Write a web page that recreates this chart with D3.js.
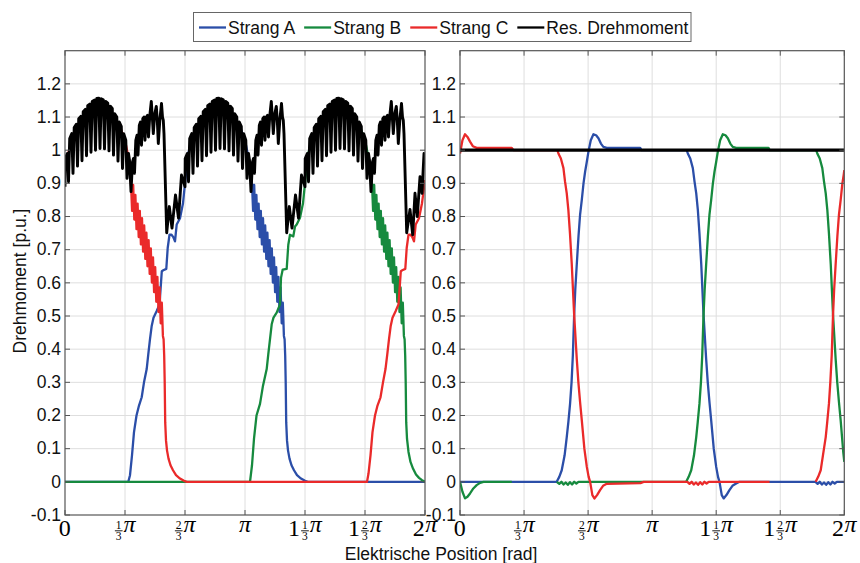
<!DOCTYPE html>
<html>
<head>
<meta charset="utf-8">
<script src="https://cdn.jsdelivr.net/npm/d3@7"></script>
<style>
  html, body { margin: 0; padding: 0; background: #fff; }
  svg { display: block; }
</style>
</head>
<body>
<svg id="chart" width="860" height="563"></svg>
<script>
// ---------------- data ----------------
// electrical position in degrees (0..360 = 0..2π), torque in p.u.
// null marks a break in a trace
const xTicksDeg = [0, 60, 120, 180, 240, 300, 360];
const xTickLabels = ["0", "1/3π", "2/3π", "π", "1 1/3π", "1 2/3π", "2π"];
const yTicks = [-0.1, 0, 0.1, 0.2, 0.3, 0.4, 0.5, 0.6, 0.7, 0.8, 0.9, 1, 1.1, 1.2];
const yTickLabels = ["-0.1", "0", "0.1", "0.2", "0.3", "0.4", "0.5", "0.6", "0.7", "0.8", "0.9", "1", "1.1", "1.2"];
const seriesNames = ["Strang A", "Strang B", "Strang C", "Res. Drehmoment"];
const seriesColors = ["#2b4ea8", "#168a3e", "#ea2a2a", "#000000"];

// left panel: phase torques
const leftA = [
  [0,0],[63.3,0],[65,0.02],[67,0.08],[69,0.15],[71.5,0.2],[74,0.23],[76.7,0.255],[79,0.3],[81.7,0.34],
  [83.3,0.385],[85,0.43],[86.7,0.47],[88.5,0.495],[91.7,0.515],[94.5,0.535],[96,0.6],[96.8,0.635],
  [98.3,0.638],[101.3,0.642],[102.7,0.705],[104.5,0.745],[106.5,0.745],[108.3,0.738],[110,0.725],
  [111.7,0.776],[115,0.795],[118,0.84],[121,0.93],[123,0.99],[130,1.05],[140,1.1],[152,1.135],[165,1.115],
  [175,1.07],[180,1.03],[183,0.985],[186,0.92],
  [187,0.9],[188.1,0.817],[189.2,0.895],[190.3,0.791],[191.4,0.865],[192.5,0.762],[193.6,0.839],
  [194.7,0.738],[195.8,0.817],[196.9,0.716],[198,0.795],[199.1,0.694],[200.2,0.773],[201.3,0.672],
  [202.4,0.751],[203.5,0.65],[204.6,0.729],[205.7,0.627],[206.8,0.704],[207.9,0.601],[209,0.677],
  [210.1,0.572],[211.2,0.647],[212.3,0.543],[213.4,0.618],[214.5,0.512],[215.6,0.586],[216.7,0.478],
  [217.8,0.54],[218.9,0.44],
  [219.6,0.43],[220.2,0.38],[220.7,0.3],[221.2,0.18],[222,0.125],[223,0.095],[224.5,0.07],[226.5,0.05],
  [229,0.035],[232,0.02],[236,0.01],[240,0.003],[243,0],[360,0]
];
const leftB = [
  [0,0],[185,0],[187,0.05],[189,0.13],[191.5,0.2],[195,0.235],[198,0.29],[201.7,0.34],[203.3,0.385],
  [206.7,0.475],[208.5,0.495],[211.7,0.51],[215,0.535],[216,0.615],[217.7,0.64],[221.7,0.642],
  [223.3,0.715],[225,0.745],[228.3,0.74],[230,0.77],[231.7,0.776],[235,0.796],[238,0.84],[241,0.93],
  [243,0.99],[250,1.05],[260,1.1],[272,1.135],[285,1.115],[295,1.07],[300,1.03],[303,0.985],[306,0.92],
  [307,0.9],[308.1,0.817],[309.2,0.895],[310.3,0.791],[311.4,0.865],[312.5,0.762],[313.6,0.839],
  [314.7,0.738],[315.8,0.817],[316.9,0.716],[318,0.795],[319.1,0.694],[320.2,0.773],[321.3,0.672],
  [322.4,0.751],[323.5,0.65],[324.6,0.729],[325.7,0.627],[326.8,0.704],[327.9,0.601],[329,0.677],
  [330.1,0.572],[331.2,0.647],[332.3,0.543],[333.4,0.618],[334.5,0.512],[335.6,0.586],[336.7,0.478],
  [337.8,0.54],[338.9,0.44],
  [339.6,0.43],[340.2,0.38],[340.7,0.3],[341.2,0.18],[342,0.13],[343.5,0.09],[345.5,0.06],[348,0.04],
  [351,0.022],[354,0.012],[357,0.005],[360,0]
];
const leftC = [
  [0,0.96],[3,0.99],[10,1.05],[20,1.1],[32,1.135],[45,1.115],[55,1.07],[60,1.03],[63,0.985],[65.5,0.92],
  [66,0.9],[67.1,0.817],[68.2,0.895],[69.3,0.791],[70.4,0.865],[71.5,0.762],[72.6,0.839],[73.7,0.738],
  [74.8,0.817],[75.9,0.716],[77,0.795],[78.1,0.694],[79.2,0.773],[80.3,0.672],[81.4,0.751],[82.5,0.65],
  [83.6,0.729],[84.7,0.627],[85.8,0.704],[86.9,0.601],[88,0.677],[89.1,0.572],[90.2,0.647],[91.3,0.543],
  [92.4,0.618],[93.5,0.512],[94.6,0.586],[95.7,0.478],[96.8,0.54],[97.9,0.44],
  [98.6,0.43],[99.2,0.38],[99.7,0.3],[100.2,0.18],[101,0.125],[102,0.095],[103.5,0.07],[105.5,0.05],
  [108,0.035],[111,0.02],[115,0.01],[119,0.003],[122,0],
  [302,0],[303.5,0.025],[305.5,0.08],[307.5,0.15],[310,0.2],[312.5,0.23],[315.5,0.255],[318,0.3],
  [320.5,0.34],[322.3,0.385],[324,0.43],[325.7,0.47],[327.5,0.495],[330.7,0.515],[333.5,0.535],[335,0.6],
  [335.8,0.635],[337.3,0.638],[340.3,0.642],[341.7,0.705],[343.5,0.745],[345.5,0.745],[347.3,0.738],
  [349,0.725],[350.7,0.776],[354,0.795],[357,0.84],[360,0.91]
];
// left panel: resulting torque with switching ripple
const leftRes = [
  [0,0.89],
  [0.2,0.975],[2.3,0.99],[3.5,0.905],[4.7,1.035],[6.8,1.05],[8,0.93],[9.2,1.068],[11.3,1.078],[12.5,0.952],
  [13.7,1.095],[15.8,1.102],[17,0.968],[18.2,1.116],[20.3,1.123],[21.5,0.983],[22.7,1.134],[24.8,1.139],[26,0.994],
  [27.2,1.147],[29.3,1.151],[30.5,1.0],[31.7,1.156],[33.8,1.157],[35,1.005],[36.2,1.155],[38.3,1.152],[39.5,1.004],
  [40.7,1.147],[42.8,1.142],[44,0.998],[45.2,1.133],[47.3,1.126],[48.5,0.985],[49.7,1.11],[51.8,1.1],[53,0.967],
  [54.2,1.085],[56.3,1.072],[57.5,0.945],[58.7,1.05],[60.8,1.03],[62,0.915],[63.5,0.99],[64.5,0.97],[66,0.875],
  [67.5,0.965],[68.5,0.975],[69.5,0.93],[70.8,1.03],[72,1.045],[73,0.985],[74.3,1.075],[75.5,1.085],
  [76.5,1.015],[77.8,1.095],[79,1.1],[80,1.03],[81.3,1.1],[82.5,1.105],[83.5,1.04],[84.8,1.105],
  [86.3,1.147],[87.3,1.1],[88.3,1.05],[89.8,1.11],[91.3,1.132],[92.3,1.09],[93.3,1.02],[94.8,1.09],
  [96.5,1.141],[97.5,1.1],[98.3,1.09],[99,1.05],[101.7,0.751],[104.3,0.83],[107,0.765],[110.5,0.865],
  [113.5,0.795],[116.5,0.925],
  [120,0.89],
  [120.2,0.975],[122.3,0.99],[123.5,0.905],[124.7,1.035],[126.8,1.05],[128,0.93],[129.2,1.068],[131.3,1.078],[132.5,0.952],
  [133.7,1.095],[135.8,1.102],[137,0.968],[138.2,1.116],[140.3,1.123],[141.5,0.983],[142.7,1.134],[144.8,1.139],[146,0.994],
  [147.2,1.147],[149.3,1.151],[150.5,1.0],[151.7,1.156],[153.8,1.157],[155,1.005],[156.2,1.155],[158.3,1.152],[159.5,1.004],
  [160.7,1.147],[162.8,1.142],[164,0.998],[165.2,1.133],[167.3,1.126],[168.5,0.985],[169.7,1.11],[171.8,1.1],[173,0.967],
  [174.2,1.085],[176.3,1.072],[177.5,0.945],[178.7,1.05],[180.8,1.03],[182,0.915],[183.5,0.99],[184.5,0.97],[186,0.875],
  [187.5,0.965],[188.5,0.975],[189.5,0.93],[190.8,1.03],[192,1.045],[193,0.985],[194.3,1.075],[195.5,1.085],
  [196.5,1.015],[197.8,1.095],[199,1.1],[200,1.03],[201.3,1.1],[202.5,1.105],[203.5,1.04],[204.8,1.105],
  [206.3,1.147],[207.3,1.1],[208.3,1.05],[209.8,1.11],[211.3,1.132],[212.3,1.09],[213.3,1.02],[214.8,1.09],
  [216.5,1.141],[217.5,1.1],[218.3,1.09],[219,1.05],[221.7,0.751],[224.3,0.83],[227,0.765],[230.5,0.865],
  [233.5,0.795],[236.5,0.925],
  [240,0.89],
  [240.2,0.975],[242.3,0.99],[243.5,0.905],[244.7,1.035],[246.8,1.05],[248,0.93],[249.2,1.068],[251.3,1.078],[252.5,0.952],
  [253.7,1.095],[255.8,1.102],[257,0.968],[258.2,1.116],[260.3,1.123],[261.5,0.983],[262.7,1.134],[264.8,1.139],[266,0.994],
  [267.2,1.147],[269.3,1.151],[270.5,1.0],[271.7,1.156],[273.8,1.157],[275,1.005],[276.2,1.155],[278.3,1.152],[279.5,1.004],
  [280.7,1.147],[282.8,1.142],[284,0.998],[285.2,1.133],[287.3,1.126],[288.5,0.985],[289.7,1.11],[291.8,1.1],[293,0.967],
  [294.2,1.085],[296.3,1.072],[297.5,0.945],[298.7,1.05],[300.8,1.03],[302,0.915],[303.5,0.99],[304.5,0.97],[306,0.875],
  [307.5,0.965],[308.5,0.975],[309.5,0.93],[310.8,1.03],[312,1.045],[313,0.985],[314.3,1.075],[315.5,1.085],
  [316.5,1.015],[317.8,1.095],[319,1.1],[320,1.03],[321.3,1.1],[322.5,1.105],[323.5,1.04],[324.8,1.105],
  [326.3,1.147],[327.3,1.1],[328.3,1.05],[329.8,1.11],[331.3,1.132],[332.3,1.09],[333.3,1.02],[334.8,1.09],
  [336.5,1.141],[337.5,1.1],[338.3,1.09],[339,1.05],[341.7,0.751],[345,0.821],[347.7,0.745],[350,0.87],
  [352.3,0.8],[355,0.92],[357,0.87],[359,0.99],[360,0.96]
];

// right panel: phase torques
const rightA = [
  [0,0],[90.6,0],[93,0.015],[95.3,0.035],[98,0.08],[100,0.135],[101.5,0.18],[103.1,0.235],[104.5,0.3],
  [105.7,0.38],[106.9,0.5],[108,0.58],[109.4,0.656],[111,0.74],[112.5,0.806],[114.1,0.85],[115.7,0.9],
  [117.2,0.935],[118.8,0.965],[120.3,0.995],[122.5,1.03],[125,1.048],[127.5,1.045],[129.7,1.036],
  [132,1.02],[134.3,1.01],[137.5,1.007],[168.8,1.007],[170,1.0],[212.4,1.0],
  [213.4,0.99],[215.7,0.975],[218.1,0.946],[219.7,0.905],[221.3,0.87],[222.8,0.82],[224.3,0.75],
  [226,0.656],[228.1,0.506],[230.6,0.37],[232.1,0.3],[233.7,0.24],[235.3,0.185],[237.7,0.1],[240,0.045],
  [241.7,0.015],[243.1,0],[245.2,-0.04],[247,-0.05],[249.6,-0.04],[252.4,-0.025],[255.2,-0.012],
  [258.7,-0.005],[261.8,0],[333,0],[335,-0.006],[337,0],[339,-0.008],[341,-0.002],[343,-0.009],
  [345,-0.001],[347,-0.008],[349,0],[351,-0.005],[353,0],[360,0]
];
const rightB = [
  [0,0],[2.3,-0.03],[4.7,-0.05],[7,-0.045],[9.4,-0.035],[12.5,-0.02],[15.6,-0.01],[18.8,-0.003],[22,0],
  [48.5,0],[48.5,null],
  [90.6,0],[93,-0.006],[95,0],[97,-0.008],[99,-0.002],[101,-0.009],[103,-0.001],[105,-0.008],[107,0],
  [109,-0.005],[111,0],
  [211.9,0],[214.2,0.015],[216.6,0.035],[219.2,0.08],[221.3,0.135],[222.7,0.18],[224.3,0.235],
  [225.7,0.3],[226.9,0.38],[228.1,0.5],[229.2,0.58],[230.6,0.656],[232.2,0.74],[233.7,0.806],
  [235.3,0.85],[236.9,0.9],[238.4,0.935],[240,0.965],[241.5,0.995],[243.7,1.03],[246.2,1.048],
  [248.7,1.045],[250.9,1.036],[253.2,1.02],[255.5,1.01],[258.7,1.007],[289,1.007],[290.2,1.0],[333.7,1.0],
  [334.7,0.99],[337,0.975],[339.4,0.946],[341,0.905],[342.6,0.87],[344.1,0.82],[345.6,0.75],
  [347.3,0.656],[349.4,0.506],[351.9,0.37],[353.4,0.3],[355,0.24],[356.6,0.185],[359,0.09],[360,0.06]
];
const rightC = [
  [0,0.99],[2.3,1.03],[4.7,1.048],[7,1.04],[9.4,1.026],[12,1.012],[15.6,1.007],[48.5,1.007],[50,1.0],
  [91.2,1.0],[92.2,0.99],[94.5,0.975],[96.9,0.946],[98.4,0.905],[100,0.87],[101.5,0.82],[103,0.75],
  [104.7,0.656],[106.9,0.506],[109.4,0.37],[110.9,0.3],[112.5,0.24],[114.1,0.185],[116.5,0.1],[118.8,0.045],
  [120.5,0.015],[121.9,0],[124,-0.04],[125.9,-0.05],[128.4,-0.04],[131.2,-0.025],[134,-0.012],
  [137.5,-0.006],[169,-0.004],
  [172,0],[213,0],[215,-0.006],[217,0],[219,-0.008],[221,-0.002],[223,-0.009],
  [225,-0.001],[227,-0.008],[229,0],[231,-0.005],[233,0],[290,0],[290,null],
  [333.2,0],[335.5,0.015],[337.9,0.035],[340,0.08],[342.6,0.135],[344,0.18],[345.6,0.235],[346.9,0.3],
  [348.2,0.38],[349.4,0.5],[350.5,0.58],[351.9,0.656],[353.5,0.74],[355,0.806],[356.6,0.85],
  [358.2,0.9],[359.4,0.925],[360,0.94]
];
const rightRes = [[0,1],[360,1]];

// ---------------- layout ----------------
const svg = d3.select("#chart");
const plotTop = 50.7, plotBottom = 515;
const panels = [
  { x0: 65,  x1: 425,   series: [leftA, leftB, leftC, leftRes],   resWidth: 2.9 },
  { x0: 460, x1: 844.3, series: [rightA, rightB, rightC, rightRes], resWidth: 3.2 }
];

const y = d3.scaleLinear().domain([-0.1, 1.3]).range([plotBottom, plotTop]);

const sansFont = "'Liberation Sans', Arial, Helvetica, sans-serif";
const serifFont = "'Liberation Serif', 'Times New Roman', serif";
const gridColor = "#dedede";
const axisColor = "#555";

// tick label such as "1 1/3π": whole number, stacked fraction, then π
function drawPiLabel(g, cx, label) {
  const grp = g.append("g");
  const isPi = label.endsWith("π");
  const body = isPi ? label.slice(0, -1) : label;
  let whole = "", num = "", den = "";
  body.split(" ").filter(s => s.length).forEach(part => {
    if (part.includes("/")) { [num, den] = part.split("/"); }
    else whole = part;
  });
  let cursor = 0;
  const base = 535.5;
  if (whole) {
    const t = grp.append("text").attr("x", cursor).attr("y", base)
      .style("font-family", serifFont).style("font-size", "24px").text(whole);
    cursor += t.node().getComputedTextLength() + 0.5;
  }
  if (num) {
    const tn = grp.append("text").attr("y", base - 6.5)
      .style("font-family", serifFont).style("font-size", "11.5px").attr("text-anchor", "middle").text(num);
    const td = grp.append("text").attr("y", base + 4.8)
      .style("font-family", serifFont).style("font-size", "11.5px").attr("text-anchor", "middle").text(den);
    const w = Math.max(tn.node().getComputedTextLength(), td.node().getComputedTextLength()) + 2;
    tn.attr("x", cursor + w / 2 + 0.5);
    td.attr("x", cursor + w / 2 + 0.5);
    grp.append("line").attr("x1", cursor + 0.5).attr("x2", cursor + w + 0.5)
      .attr("y1", base - 4.7).attr("y2", base - 4.7).attr("stroke", "#000").attr("stroke-width", 0.9);
    cursor += w + 1.5;
  }
  if (isPi) {
    const tp = grp.append("text").attr("x", cursor).attr("y", base - 3.5)
      .style("font-family", serifFont).style("font-size", "24px").style("font-style", "italic").text("π");
    cursor += tp.node().getComputedTextLength();
  }
  grp.attr("transform", `translate(${cx - cursor / 2},0)`);
}

panels.forEach((p, pi) => {
  const x = d3.scaleLinear().domain([0, 360]).range([p.x0, p.x1]);
  const g = svg.append("g");

  // grid
  g.append("g").selectAll("line").data(xTicksDeg.slice(1, -1)).join("line")
    .attr("x1", d => x(d)).attr("x2", d => x(d)).attr("y1", plotTop).attr("y2", plotBottom)
    .attr("stroke", gridColor).attr("stroke-width", 1);
  g.append("g").selectAll("line").data(yTicks.slice(1)).join("line")
    .attr("x1", p.x0).attr("x2", p.x1).attr("y1", d => y(d)).attr("y2", d => y(d))
    .attr("stroke", gridColor).attr("stroke-width", 1);

  // curves
  const clipId = "clip" + pi;
  svg.append("clipPath").attr("id", clipId).append("rect")
    .attr("x", p.x0).attr("y", plotTop).attr("width", p.x1 - p.x0).attr("height", plotBottom - plotTop);
  const line = d3.line().defined(d => d[1] !== null).x(d => x(d[0])).y(d => y(d[1]));
  const curves = g.append("g").attr("clip-path", `url(#${clipId})`);
  p.series.forEach((s, i) => {
    curves.append("path").datum(s).attr("d", line)
      .attr("fill", "none").attr("stroke", seriesColors[i])
      .attr("stroke-width", i === 3 ? p.resWidth : 2.3)
      .attr("stroke-linejoin", "round").attr("stroke-linecap", "butt");
  });

  // box
  g.append("rect").attr("x", p.x0).attr("y", plotTop).attr("width", p.x1 - p.x0).attr("height", plotBottom - plotTop)
    .attr("fill", "none").attr("stroke", axisColor).attr("stroke-width", 1.2);

  // inward ticks on all four sides
  const tl = 5;
  yTicks.forEach(v => {
    g.append("line").attr("x1", p.x0).attr("x2", p.x0 + tl).attr("y1", y(v)).attr("y2", y(v)).attr("stroke", axisColor);
    g.append("line").attr("x1", p.x1).attr("x2", p.x1 - tl).attr("y1", y(v)).attr("y2", y(v)).attr("stroke", axisColor);
  });
  xTicksDeg.forEach(d => {
    g.append("line").attr("x1", x(d)).attr("x2", x(d)).attr("y1", plotBottom).attr("y2", plotBottom - tl).attr("stroke", axisColor);
    g.append("line").attr("x1", x(d)).attr("x2", x(d)).attr("y1", plotTop).attr("y2", plotTop + tl).attr("stroke", axisColor);
  });

  // y tick labels
  g.append("g").selectAll("text").data(yTicks).join("text")
    .attr("x", p.x0 - 4).attr("y", d => y(d)).attr("dy", "0.33em")
    .attr("text-anchor", "end")
    .style("font-family", sansFont).style("font-size", "17.5px").style("fill", "#111")
    .text((d, i) => yTickLabels[i]);

  // x tick labels
  xTicksDeg.forEach((d, i) => drawPiLabel(g, x(d), xTickLabels[i]));
});

// axis titles
svg.append("text").attr("x", 441).attr("y", 560).attr("text-anchor", "middle")
  .style("font-family", sansFont).style("font-size", "17.5px").style("fill", "#111")
  .text("Elektrische Position [rad]");
svg.append("text").attr("transform", "translate(26,281) rotate(-90)").attr("text-anchor", "middle")
  .style("font-family", sansFont).style("font-size", "17.5px").style("fill", "#111")
  .text("Drehmoment [p.u.]");

// legend
const legend = svg.append("g");
legend.append("rect").attr("x", 193.5).attr("y", 12.5).attr("width", 497.5).attr("height", 29)
  .attr("fill", "#fff").attr("stroke", "#666").attr("stroke-width", 1);
let lx = 199;
seriesNames.forEach((name, i) => {
  legend.append("line").attr("x1", lx).attr("x2", lx + 27).attr("y1", 27.5).attr("y2", 27.5)
    .attr("stroke", seriesColors[i]).attr("stroke-width", 2.3);
  const t = legend.append("text").attr("x", lx + 29).attr("y", 33.5)
    .style("font-family", sansFont).style("font-size", "17.5px").style("fill", "#111").text(name);
  lx += 29 + t.node().getComputedTextLength() + 9;
});
</script>
</body>
</html>
